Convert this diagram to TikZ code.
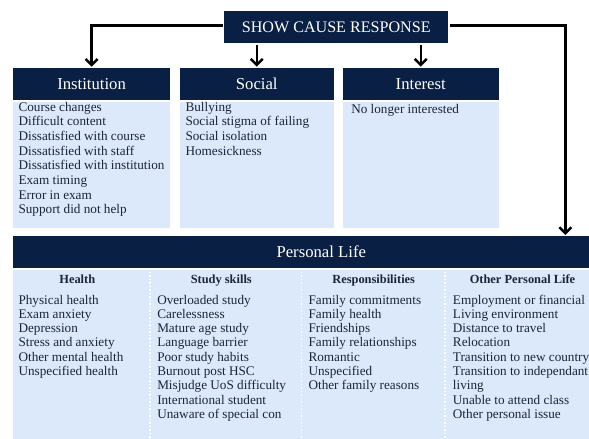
\documentclass[tikz,border=0pt]{standalone}
\usepackage{fontspec}
\setmainfont{Liberation Serif}
\usetikzlibrary{arrows.meta,positioning}

\definecolor{navy}{RGB}{10,31,68}
\definecolor{paleblue}{RGB}{220,233,250}
\definecolor{inkblue}{RGB}{28,36,58}

\begin{document}
\begin{tikzpicture}[x=1pt,y=-1pt,->,>={Straight Barb[length=6pt,width=12pt]},line width=2.5pt]
  \tikzstyle{headbox}=[fill=navy,text=white,anchor=north west,inner sep=0pt,minimum height=31.6pt,font=\fontsize{16.7}{18}\selectfont]
  \tikzstyle{bodybox}=[fill=paleblue,inner sep=0pt]
  \tikzstyle{entry}=[anchor=base west,inner sep=0pt,text=inkblue,font=\fontsize{13.2}{14.5}\selectfont]
  \tikzstyle{colhead}=[anchor=base,inner sep=0pt,text=inkblue,font=\fontsize{12.4}{14}\selectfont\bfseries]
\useasboundingbox (0,0) rectangle (589,439);

% top response box and the four reason groups
\node[headbox,minimum width=224pt,minimum height=32pt,font=\fontsize{16.1}{18}\selectfont] (show) at (223,10) {SHOW CAUSE RESPONSE};
\node[headbox,minimum width=157.3pt] (inst) at (11.7,66.7) {Institution};
\node[bodybox,minimum width=157.3pt,minimum height=126pt,below=0pt of inst] (instbody) {};
\node[headbox,minimum width=154.4pt] (soc) at (178.3,66.7) {Social};
\node[bodybox,minimum width=154.4pt,minimum height=126pt,below=0pt of soc] (socbody) {};
\node[headbox,minimum width=155.6pt] (intr) at (341.7,66.7) {Interest};
\node[bodybox,minimum width=155.6pt,minimum height=126pt,below=0pt of intr] (intrbody) {};
\node[headbox,minimum width=616pt] (pers) at (12,235) {Personal Life};
\node[bodybox,minimum width=616pt,minimum height=190pt,below=0pt of pers] (persbody) {};
\coordinate (drop) at (565.3,235);

% column dividers
\foreach \x in {150,301.7,445}
  \draw[-,white,dotted,line width=1.5pt] (\x,268) -- (\x,439);

% reason lists
\foreach \t [count=\i from 0] in {Course changes,Difficult content,Dissatisfied with course,Dissatisfied with staff,Dissatisfied with institution,Exam timing,Error in exam,Support did not help}
  \node[entry] (inst\i) at (17.3,111+14.7*\i) {\t};
\foreach \t [count=\i from 0] in {Bullying,Social stigma of failing,Social isolation,Homesickness}
  \node[entry] (soc\i) at (184.3,111+14.7*\i) {\t};
\node[entry] (intr0) at (350,113.3) {No longer interested};

\node[colhead] (healthhd) at (77.3,283.3) {Health};
\node[colhead] (studyhd) at (221.3,283.3) {Study skills};
\node[colhead] (resphd) at (373.7,283.3) {Responsibilities};
\node[colhead] (otherhd) at (522.5,283.3) {Other Personal Life};

\foreach \t [count=\i from 0] in {Physical health,Exam anxiety,Depression,Stress and anxiety,Other mental health,Unspecified health}
  \node[entry] (health\i) at (17.3,304+14.3*\i) {\t};
\foreach \t [count=\i from 0] in {Overloaded study,Carelessness,Mature age study,Language barrier,Poor study habits,Burnout post HSC,Misjudge UoS difficulty,International student,Unaware of special con}
  \node[entry] (study\i) at (156,304+14.3*\i) {\t};
\foreach \t [count=\i from 0] in {Family commitments,Family health,Friendships,Family relationships,Romantic,Unspecified,Other family reasons}
  \node[entry] (resp\i) at (307.3,304+14.3*\i) {\t};
\foreach \t [count=\i from 0] in {Employment or financial,Living environment,Distance to travel,Relocation,Transition to new country,Transition to independant,living,Unable to attend class,Other personal issue}
  \node[entry] (other\i) at (451.7,304+14.3*\i) {\t};

% arrows from the response box
\draw ([yshift=2pt]show.west) -| (inst.north);
\draw (show.south -| soc.north) -- (soc.north);
\draw (show.south -| intr.north) -- (intr.north);
\draw ([yshift=2pt]show.east) -| (drop);
\end{tikzpicture}
\end{document}
